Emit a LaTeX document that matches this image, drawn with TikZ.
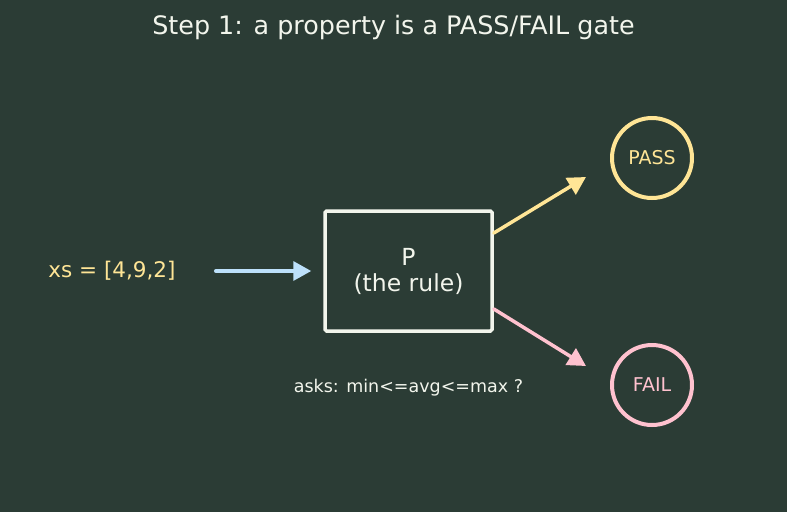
\documentclass[tikz,border=0pt]{standalone}
\usepackage{fontspec}
\setmainfont{DejaVu Sans}
\usetikzlibrary{arrows.meta}
\definecolor{board}{HTML}{2B3C35}
\definecolor{chalk}{HTML}{F2F5EC}
\definecolor{passy}{HTML}{FFE596}
\definecolor{failp}{HTML}{FFC2CF}
\definecolor{feedb}{HTML}{BDE1FB}
\tikzset{%
    rulebox/.style={draw=chalk, line width=3.5pt, rounded corners=1.5pt,
        minimum width=167pt, minimum height=120pt, align=center,
        text=chalk, font=\fontsize{23.5}{26}\selectfont},
    verdict/.style={circle, line width=4pt, minimum size=80pt, inner sep=0pt,
        font=\fontsize{19}{22}\selectfont},
    gatearrow/.style={line width=3.5pt, line cap=round,
        -{Triangle[length=18pt,width=19pt]}}
}
\begin{document}
\begin{tikzpicture}[x=1pt, y=-1pt]
		\fill[board] (0,0) rectangle (787,512);
		\useasboundingbox (0,0) rectangle (787,512);

		\node[text=chalk, font=\fontsize{25.4}{30}\selectfont] (title) at (393.5,27) {Step 1: a property is a PASS/FAIL gate};

		\node[text=passy, font=\fontsize{21.5}{26}\selectfont, inner sep=0pt] (xs) at (112,271) {xs = [4,9,2]};
		\node[rulebox] (rule) at (408.5,271) {P\\(the rule)};
		\node[text=chalk, font=\fontsize{17.5}{21}\selectfont] (asks) at (408.5,388) {asks: min<=avg<=max ?};

		\node[verdict, draw=passy, text=passy] (pass) at (652,158) {PASS};
		\node[verdict, draw=failp, text=failp] (fail) at (652,385) {FAIL};

		\coordinate (passtip) at (586,177);
		\coordinate (failtip) at (586,366);

		\draw[gatearrow, feedb, shorten <=40pt, shorten >=12pt] (xs.east) -- (rule.west);
		\draw[gatearrow, passy] (rule.24) -- (passtip);
		\draw[gatearrow, failp] (rule.-24) -- (failtip);
\end{tikzpicture}
\end{document}
